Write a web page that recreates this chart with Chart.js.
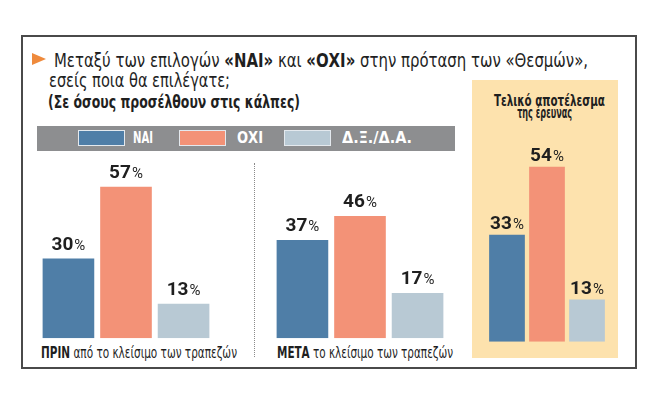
<!DOCTYPE html>
<html lang="el">
<head>
<meta charset="utf-8">
<script src="https://cdn.jsdelivr.net/npm/chart.js@4/dist/chart.umd.min.js"></script>
<style>
  html, body { margin: 0; padding: 0; background: #fff; }
  body { width: 660px; height: 400px; position: relative; overflow: hidden;
         font-family: "Liberation Sans Narrow", "DejaVu Sans Condensed", Roboto, sans-serif; color: #1f1f1f; }
  .abs { position: absolute; white-space: nowrap; }
  .fit { display: inline-block; transform-origin: 0 50%; }
  .c .fit { transform-origin: 50% 50%; }
  #box { left: 21px; top: 35px; width: 612px; height: 330px; border: 2px solid #4a4a4a; }
  #panel { left: 472px; top: 80px; width: 146px; height: 278px; background: #fde2ad; }
  #tri { left: 32px; top: 53px; width: 0; height: 0; border-top: 6px solid transparent;
         border-bottom: 6px solid transparent; border-left: 14px solid #ef8a3c; }
  .title { font-size: 20px; line-height: 22px; }
  .title b { font-weight: 900; }
  .sub { font-size: 17px; line-height: 18px; font-weight: bold; }
  #band { left: 37px; top: 126px; width: 418px; height: 25px; background: #8d8e90; }
  .sw { position: absolute; top: 130px; width: 45px; height: 14px; border: 1px solid #e4e9ee; }
  .lg { font-size: 16px; line-height: 16px; font-weight: bold; color: #fff; top: 130px; }
  .ptitle { font-size: 16px; line-height: 13px; font-weight: bold; left: 472px; width: 146px; text-align: center; }
  .cat { font-size: 16px; line-height: 16px; top: 345px; }
  .cat b { font-weight: bold; }
  #dots { left: 254px; top: 163px; height: 194px; width: 0; border-left: 1.5px dotted #8a8a8a; }
  canvas { position: absolute; left: 0; top: 0; }
</style>
</head>
<body>
<div id="box" class="abs"></div>
<div id="panel" class="abs"></div>
<div id="tri" class="abs"></div>
<div class="abs title" style="left:54px;top:49px"><span class="fit" data-w="534">Μεταξύ των επιλογών <b>«ΝΑΙ»</b> και <b>«ΟΧΙ»</b> στην πρόταση των «Θεσμών»,</span></div>
<div class="abs title" style="left:49px;top:69px"><span class="fit" data-w="181">εσείς ποια θα επιλέγατε;</span></div>
<div class="abs sub" style="left:48px;top:93px"><span class="fit" data-w="252">(Σε όσους προσέλθουν στις κάλπες)</span></div>
<div id="band" class="abs"></div>
<div id="legend"></div>
<div class="abs ptitle c" style="top:93.5px"><span class="fit" data-w="111">Τελικό αποτέλεσμα</span></div>
<div class="abs ptitle c" style="top:105.5px"><span class="fit" data-w="55">της έρευνας</span></div>
<div id="dots" class="abs"></div>
<div id="cats"></div>
<canvas id="before-after" width="660" height="400"></canvas>
<canvas id="final" width="660" height="400"></canvas>

<script>
// ===== DATA =====
const categories = ["ΠΡΙΝ", "ΜΕΤΑ", "Τελικό αποτέλεσμα"];
const categoryText = ["από το κλείσιμο των τραπεζών", "το κλείσιμο των τραπεζών"];
const seriesNames = ["ΝΑΙ", "ΟΧΙ", "Δ.Ξ./Δ.Α."];
const naiValues = [30, 37, 33];
const oxiValues = [57, 46, 54];
const dkdaValues = [13, 17, 13];

const colors = ["#4f7ea7", "#f39277", "#b8c9d4"];

// ===== LEGEND + CATEGORY LABELS (html) =====
const legendBox = document.getElementById("legend");
const swatchX = [78, 179, 284];
const legendX = [133, 237, 342];
const legendW = [20, 26, 70];
seriesNames.forEach((name, i) => {
  const sw = document.createElement("div");
  sw.className = "sw";
  sw.style.left = swatchX[i] + "px";
  sw.style.background = colors[i];
  legendBox.appendChild(sw);
  const t = document.createElement("div");
  t.className = "abs lg";
  t.style.left = legendX[i] + "px";
  t.innerHTML = `<span class="fit" data-w="${legendW[i]}">${name}</span>`;
  legendBox.appendChild(t);
});

const catsBox = document.getElementById("cats");
const catX = [41, 277];
const catW = [196, 176];
categoryText.forEach((txt, i) => {
  const d = document.createElement("div");
  d.className = "abs cat";
  d.style.left = catX[i] + "px";
  d.innerHTML = `<span class="fit" data-w="${catW[i]}"><b>${categories[i]}</b> ${txt}</span>`;
  catsBox.appendChild(d);
});

function fitTexts() {
  document.querySelectorAll(".fit").forEach(el => {
    el.style.transform = "none";
    const w = el.getBoundingClientRect().width;
    const target = parseFloat(el.dataset.w);
    if (w > 0) el.style.transform = `scaleX(${target / w})`;
  });
}
fitTexts();
if (document.fonts) document.fonts.ready.then(fitTexts);

// ===== VALUE LABELS =====
function labelPlugin(gap) {
  return {
    id: "valueLabels",
    afterDatasetsDraw(chart) {
      const ctx = chart.ctx;
      ctx.save();
      ctx.fillStyle = "#1f1f1f";
      ctx.textBaseline = "alphabetic";
      chart.data.datasets.forEach((ds, di) => {
        chart.getDatasetMeta(di).data.forEach((bar, i) => {
          const num = String(ds.data[i]);
          ctx.font = "bold 19px Roboto, sans-serif";
          const wNum = ctx.measureText(num).width;
          ctx.font = "15px Roboto, sans-serif";
          const wPct = ctx.measureText("%").width;
          const x0 = bar.x - (wNum + wPct + 1) / 2;
          const y = bar.y - gap;
          ctx.font = "bold 19px Roboto, sans-serif";
          ctx.fillText(num, x0, y);
          ctx.font = "15px Roboto, sans-serif";
          ctx.fillText("%", x0 + wNum + 1, y);
        });
      });
      ctx.restore();
    }
  };
}

function makeChart(id, labels, values, padding, catPct, barPct, gap) {
  return new Chart(document.getElementById(id), {
    type: "bar",
    data: {
      labels: labels,
      datasets: seriesNames.map((name, i) => ({
        label: name,
        data: values[i],
        backgroundColor: colors[i],
        borderWidth: 0,
        categoryPercentage: catPct,
        barPercentage: barPct
      }))
    },
    options: {
      responsive: false,
      animation: false,
      events: [],
      devicePixelRatio: 1,
      layout: { padding: padding },
      plugins: { legend: { display: false }, tooltip: { enabled: false } },
      scales: {
        x: { display: false },
        y: { display: false, min: 0, max: 60 }
      }
    },
    plugins: [labelPlugin(gap)]
  });
}

// ΠΡΙΝ / ΜΕΤΑ share one scale
makeChart("before-after",
  categories.slice(0, 2),
  [naiValues.slice(0, 2), oxiValues.slice(0, 2), dkdaValues.slice(0, 2)],
  { left: 9, right: 183, top: 178.7, bottom: 61.7 },
  0.738, 0.897, 9);

// final result, inside the yellow panel
makeChart("final",
  categories.slice(2),
  [naiValues.slice(2), oxiValues.slice(2), dkdaValues.slice(2)],
  { left: 474, right: 40, top: 147.3, bottom: 58.3 },
  0.822, 0.893, 6);
</script>
</body>
</html>
